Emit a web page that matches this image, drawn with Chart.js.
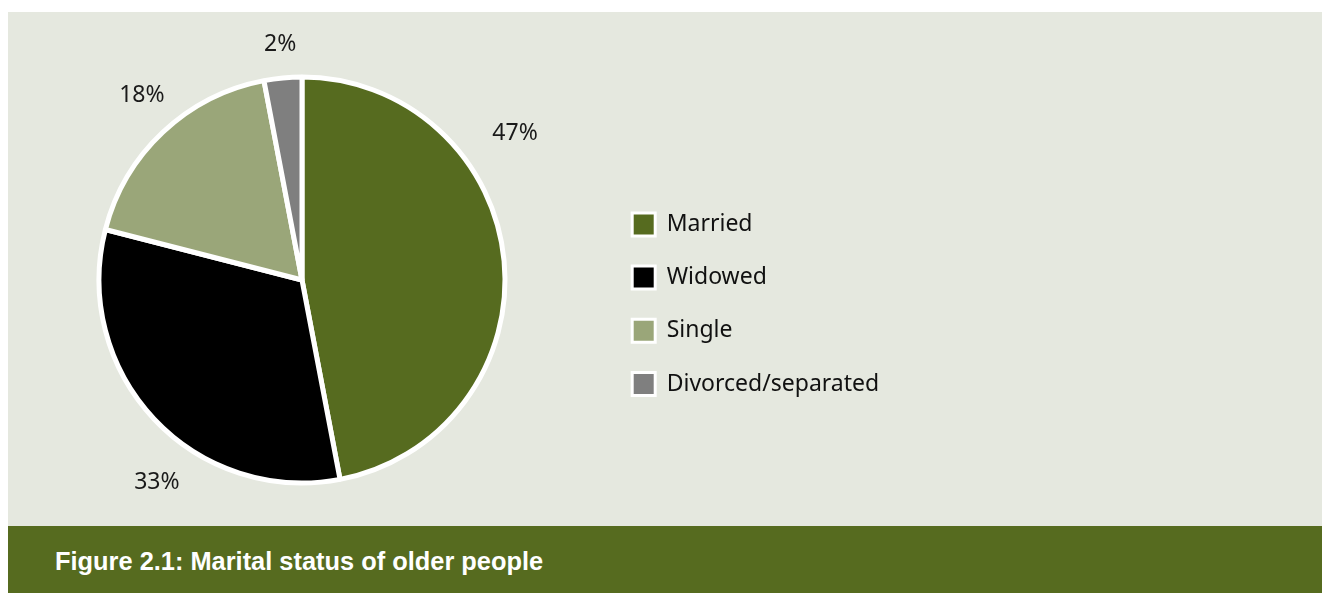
<!DOCTYPE html>
<html>
<head>
	<title>Marital status of older people</title>
	<style>
		body {
			margin: 0;
			width: 1322px;
			height: 593px;
			position: relative;
			overflow: hidden;
			background: #ffffff;
		}
		.panel {
			position: absolute;
			left: 8px;
			top: 12px;
			width: 1314px;
			height: 514px;
			background: #e5e8df;
		}
		.footer {
			position: absolute;
			left: 8px;
			top: 526px;
			width: 1314px;
			height: 67px;
			box-sizing: border-box;
			padding-left: 47px;
			padding-top: 4px;
			background: #566b1f;
			color: #ffffff;
			font: bold 25.4px 'Liberation Sans', Arial, sans-serif;
			line-height: 63px;
		}
		#pie {
			position: absolute;
			left: 2px;
			top: 12px;
		}
	</style>
</head>
<body>
	<div class="panel"></div>
	<canvas id="pie" width="1314" height="514"></canvas>
	<div class="footer">Figure 2.1: Marital status of older people</div>

	<script src="https://cdn.jsdelivr.net/npm/chart.js@4.4.1/dist/chart.umd.min.js"></script>
	<script>
		// data
		const categories = ['Married', 'Widowed', 'Single', 'Divorced/separated'];
		const shares = [47, 32, 18, 3];
		const shareLabels = ['47%', '33%', '18%', '2%'];

		const sliceColors = ['#566b1f', '#000000', '#9aa679', '#7f7f7f'];
		const textFont = "'Noto Sans', 'Liberation Sans', sans-serif";
		const legendFontSize = 23;
		const boxSize = 23;
		const legendPad = 30.2;
		const legendLeft = 600;

		// work out right padding so the legend sits where it should
		let measure = document.createElement('canvas').getContext('2d');
		measure.font = 'normal ' + legendFontSize + 'px ' + textFont;
		let widest = Math.max(...categories.map(c => measure.measureText(c).width));
		let colWidth = boxSize + legendFontSize / 2 + widest;
		let padRight = 1314 - (legendLeft + legendPad + colWidth + 10);

		// percentage labels round the pie
		const sliceLabels = {
			id: 'sliceLabels',
			afterDatasetsDraw(chart, args, opts) {
				let ctx = chart.ctx;
				let meta = chart.getDatasetMeta(0);
				ctx.save();
				ctx.font = '23px ' + textFont;
				ctx.fillStyle = '#1a1a1a';
				ctx.textAlign = 'center';
				ctx.textBaseline = 'middle';
				meta.data.forEach((arc, i) => {
					let p = arc.getProps(['x', 'y', 'startAngle', 'endAngle', 'outerRadius'], true);
					let mid = (p.startAngle + p.endAngle) / 2 + opts.shift[i] * Math.PI / 180;
					let dist = p.outerRadius + opts.gap[i];
					ctx.fillText(shareLabels[i], p.x + Math.cos(mid) * dist, p.y + Math.sin(mid) * dist);
				});
				ctx.restore();
			}
		};

		let ctx = document.getElementById('pie').getContext('2d');
		let chart = new Chart(ctx, {
			type: 'pie',
			data: {
				labels: categories,
				datasets: [
					{
						data: shares,
						backgroundColor: sliceColors,
						borderColor: '#ffffff',
						borderWidth: 5,
						radius: 203
					}
				]
			},
			options: {
				responsive: false,
				animation: false,
				layout: {
					padding: { top: 22, bottom: 0, left: 0, right: padRight }
				},
				plugins: {
					tooltip: { enabled: false },
					legend: {
						position: 'right',
						align: 'center',
						title: {
							display: true,
							text: ' ',
							font: { size: 12 },
							padding: { top: 17, bottom: 17 }
						},
						labels: {
							boxWidth: boxSize,
							boxHeight: boxSize,
							padding: legendPad,
							color: '#111111',
							font: { family: textFont, size: legendFontSize },
							generateLabels(chart) {
								let items = Chart.overrides.doughnut.plugins.legend.labels.generateLabels(chart);
								items.forEach(it => { it.lineWidth = 3; });
								return items;
							}
						}
					},
					sliceLabels: {
						shift: [-29.2, -11.1, 2.3, 0.1],
						gap: [55.8, 45.7, 41.6, 34]
					}
				}
			},
			plugins: [sliceLabels]
		});
	</script>
</body>
</html>
